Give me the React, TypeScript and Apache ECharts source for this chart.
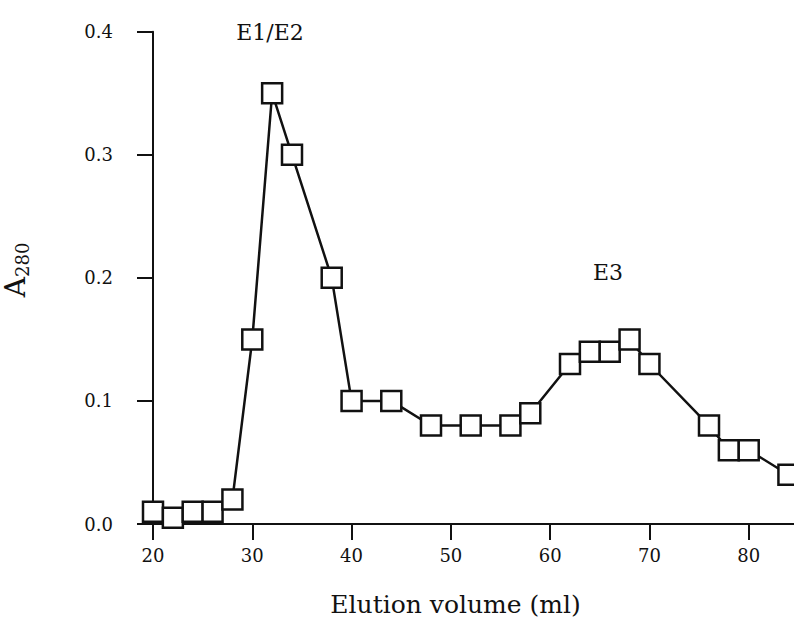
import React, { useEffect, useRef } from "react";
import * as echarts from "echarts";

const volumes = [20, 22, 24, 26, 28, 30, 32, 34, 38, 40, 44, 48, 52, 56, 58, 62, 64, 66, 68, 70, 76, 78, 80, 84];
const a280 = [0.01, 0.005, 0.01, 0.01, 0.02, 0.15, 0.35, 0.3, 0.2, 0.1, 0.1, 0.08, 0.08, 0.08, 0.09, 0.13, 0.14, 0.14, 0.15, 0.13, 0.08, 0.06, 0.06, 0.04];
const peakLabels = ["E1/E2", "E3"];

const FONT = "DejaVu Serif";

export default function App() {
  const ref = useRef<HTMLDivElement>(null);
  useEffect(() => {
    if (!ref.current) return;
    const chart = echarts.init(ref.current, null, { renderer: "svg" });
    const data = volumes.map((v, i) => [v, a280[i]]);
    chart.setOption({
      animation: false,
      backgroundColor: "#fff",
      grid: { left: 153, top: 31.7, width: 695, height: 492.3, containLabel: false, outerBoundsMode: "none" },
      xAxis: {
        type: "value",
        min: 20,
        max: 90,
        interval: 10,
        name: "Elution volume (ml)",
        nameLocation: "middle",
        nameGap: 68,
        nameTextStyle: { fontFamily: FONT, fontSize: 25, color: "#111", padding: [0, 90, 0, 0] },
        axisLine: { lineStyle: { color: "#111", width: 2 } },
        axisTick: { length: 16, lineStyle: { color: "#111", width: 2 } },
        axisLabel: {
          fontFamily: FONT,
          fontSize: 18,
          color: "#111",
          margin: 22,
          formatter: (v: number) => (v === 90 ? "" : String(v)),
        },
        splitLine: { show: false },
      },
      yAxis: {
        type: "value",
        min: 0,
        max: 0.4,
        interval: 0.1,
        name: "{a|A}{b|280}",
        nameLocation: "middle",
        nameRotate: 90,
        nameGap: 122,
        nameTextStyle: {
          padding: [0, 0, 0, 16],
          rich: {
            a: { fontFamily: FONT, fontSize: 28, color: "#111", lineHeight: 30, verticalAlign: "top" },
            b: { fontFamily: FONT, fontSize: 18, color: "#111", lineHeight: 18, verticalAlign: "bottom", padding: [14, 0, 0, 0] },
          },
        },
        axisLine: { show: true, lineStyle: { color: "#111", width: 2 } },
        axisTick: { show: true, length: 16, lineStyle: { color: "#111", width: 2 } },
        axisLabel: {
          fontFamily: FONT,
          fontSize: 18,
          color: "#111",
          margin: 40,
          formatter: (v: number) => v.toFixed(1),
        },
        splitLine: { show: false },
      },
      series: [
        {
          type: "line",
          data,
          symbol: "rect",
          symbolSize: 20,
          lineStyle: { color: "#111", width: 2.5 },
          itemStyle: { color: "#fff", borderColor: "#111", borderWidth: 2.5 },
        },
      ],
      graphic: [
        {
          type: "text",
          x: 270,
          y: 32,
          style: { text: peakLabels[0], fontFamily: FONT, fontSize: 22, fill: "#111", align: "center", verticalAlign: "middle" },
        },
        {
          type: "text",
          x: 608,
          y: 272,
          style: { text: peakLabels[1], fontFamily: FONT, fontSize: 22, fill: "#111", align: "center", verticalAlign: "middle" },
        },
      ],
    });
    return () => chart.dispose();
  }, []);
  return <div ref={ref} style={{ position: "fixed", left: 0, top: 0, width: 794, height: 625 }} />;
}
